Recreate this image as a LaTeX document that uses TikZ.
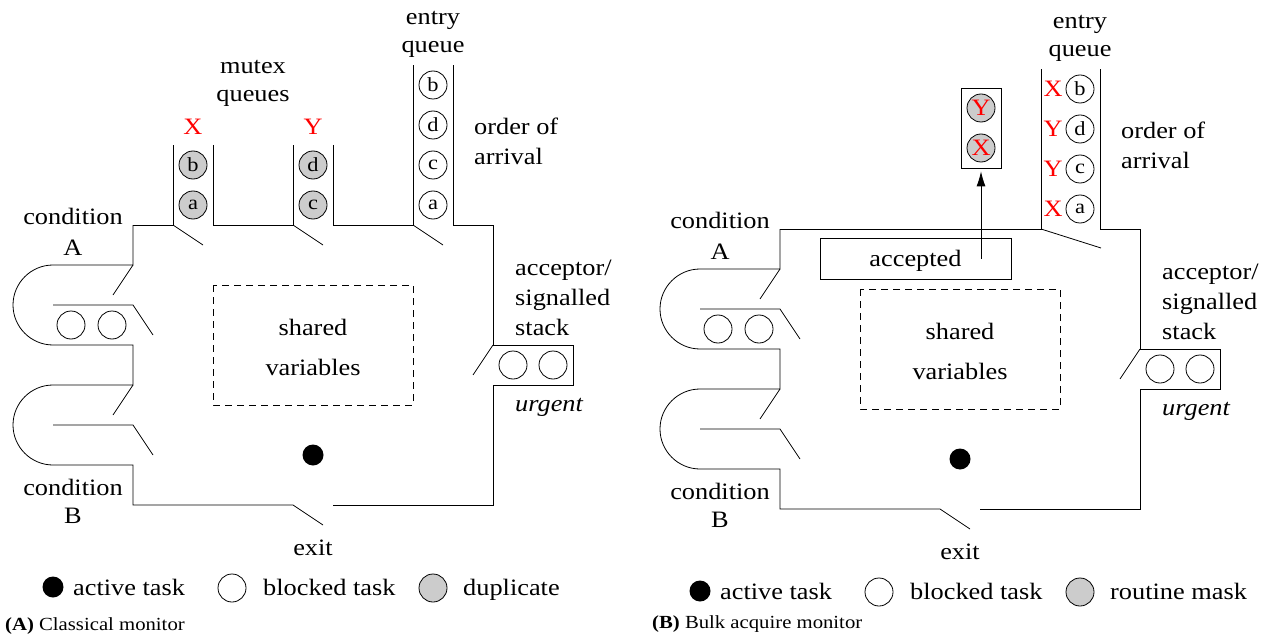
\documentclass[tikz,border=0pt]{standalone}
\usepackage{fontspec}
\setmainfont{Liberation Serif}[FakeStretch=1.12]
\usetikzlibrary{arrows.meta}

\newcommand{\mainsize}{\fontsize{23.5}{28}\selectfont}

\tikzset{
  wall/.style={line width=0.8pt},
  task/.style={circle, draw, line width=0.8pt, minimum size=28pt, inner sep=0pt, font=\fontsize{20}{22}\selectfont},
  dup/.style={task, fill=gray!40},
  active/.style={circle, fill=black, minimum size=21pt, inner sep=0pt},
  txt/.style={anchor=base, inner sep=0pt, font=\mainsize},
  redtag/.style={txt, text=red},
  figcap/.style={anchor=base west, inner sep=0pt, font=\fontsize{18.5}{22}\selectfont},
}

% parts that both monitors share
\newcommand{\monitorframe}{%
  % outer wall, conditions on the left, acceptor on the right
  \draw[wall] (133,225) -- (133,265) -- (53,265)
    .. controls (31,265) and (13,283) .. (13,305)
    .. controls (13,327) and (31,345) .. (53,345)
    -- (133,345) -- (133,385) -- (53,385)
    .. controls (31,385) and (13,403) .. (13,425)
    .. controls (13,447) and (31,465) .. (53,465)
    -- (133,465) -- (133,505) -- (293,505) -- (323,525);
  \draw[wall] (333,505) -- (493,505) -- (493,385) -- (573,385)
    -- (573,345) -- (493,345) -- (493,225) -- (453,225) -- (453,65);
  \draw[wall] (53,305) -- (133,305) -- (153,335);
  \draw[wall] (53,425) -- (133,425) -- (153,455);
  \draw[wall] (133,265) -- (113,295);
  \draw[wall] (133,385) -- (113,415);
  \draw[wall] (493,345) -- (473,375);
  % waiting tasks
  \node[task] (condA1) at (71,325) {};
  \node[task] (condA2) at (112,325) {};
  \node[task] (stack1) at (513,365) {};
  \node[task] (stack2) at (553,365) {};
  \node[task] (entb) at (433,85) {b};
  \node[task] (entd) at (433,125) {d};
  \node[task] (entc) at (433,165) {c};
  \node[task] (enta) at (433,205) {a};
  % shared data and running task
  \draw[wall, dash pattern=on 7pt off 5pt] (213,285) rectangle (413,405);
  \node[txt] (shared) at (313,335) {shared};
  \node[txt] (vars) at (313,375) {variables};
  \node[active] (running) at (313,455) {};
  % labels
  \node[txt] (condA) at (73,224) {condition};
  \node[txt] (condAname) at (73,255) {A};
  \node[txt] (condB) at (73,495) {condition};
  \node[txt] (condBname) at (73,523) {B};
  \node[txt] (entry) at (433,25) {entry};
  \node[txt] (queue) at (433,53) {queue};
  \node[txt, anchor=base west] (order) at (474,135) {order of};
  \node[txt, anchor=base west] (arrival) at (474,165) {arrival};
  \node[txt, anchor=base west] (acceptor) at (515,275) {acceptor/};
  \node[txt, anchor=base west] (signalled) at (515,305) {signalled};
  \node[txt, anchor=base west] (stack) at (515,335) {stack};
  \node[txt, anchor=base west, font=\mainsize\itshape] (urgent) at (515,411) {urgent};
  \node[txt] (exit) at (313,555) {exit};
  % legend
  \node[active] (keyactive) at (53,587) {};
  \node[txt, anchor=base west] (keyactivetxt) at (73,595) {active task};
  \node[task] (keyblocked) at (232,588) {};
  \node[txt, anchor=base west] (keyblockedtxt) at (263,595) {blocked task};
  \node[dup] (keygray) at (433,588) {};
}

\begin{document}
\begin{tikzpicture}[x=1pt, y=-1pt]
  \useasboundingbox (0,0) rectangle (1268,639);

  % (A) classical monitor
  \begin{scope}[name prefix=A-]
    \monitorframe
    \draw[wall] (133,225) -- (173,225) -- (173,145);
    \draw[wall] (213,145) -- (213,225) -- (293,225) -- (293,145);
    \draw[wall] (333,145) -- (333,225) -- (413,225) -- (413,65);
    \draw[wall] (173,225) -- (203,245);
    \draw[wall] (293,225) -- (323,245);
    \draw[wall] (413,225) -- (443,245);
    \node[dup] (xb) at (193,165) {b};
    \node[dup] (xa) at (193,205) {a};
    \node[dup] (yd) at (313,165) {d};
    \node[dup] (yc) at (313,205) {c};
    \node[redtag] (xname) at (193,135) {X};
    \node[redtag] (yname) at (313,135) {Y};
    \node[txt] (mutex) at (253,74) {mutex};
    \node[txt] (queues) at (253,102) {queues};
    \node[txt, anchor=base west] (keygraytxt) at (463,595) {duplicate};
    \node[figcap] (cap) at (5,630) {\textbf{(A)} Classical monitor};
  \end{scope}

  % (B) bulk acquire monitor
  \begin{scope}[shift={(647,4)}, name prefix=B-]
    \monitorframe
    \draw[wall] (133,225) -- (394,225) -- (394,65);
    \draw[wall] (394,225) -- (454,244);
    \node[redtag] (tagb) at (406,92.5) {X};
    \node[redtag] (tagd) at (406,132.5) {Y};
    \node[redtag] (tagc) at (406,172.5) {Y};
    \node[redtag] (taga) at (406,212.5) {X};
    \node[draw, wall, minimum width=191pt, minimum height=41pt, inner sep=0pt,
      font=\mainsize, text depth=0pt] (accepted) at (268.5,254.5) {accepted};
    \node[draw, wall, minimum width=40pt, minimum height=80pt, inner sep=0pt] (mask) at (334,124) {};
    \node[dup, font=\mainsize, text=red] (masky) at (334,104) {Y};
    \node[dup, font=\mainsize, text=red] (maskx) at (334,144) {X};
    \draw[wall, -{Latex[length=15pt, width=9pt]}, shorten >=3pt]
      (mask.south |- accepted.center) -- (mask.south);
    \node[txt, anchor=base west] (keygraytxt) at (463,595) {routine mask};
    \node[figcap] (cap) at (5,624) {\textbf{(B)} Bulk acquire monitor};
  \end{scope}
\end{tikzpicture}
\end{document}
